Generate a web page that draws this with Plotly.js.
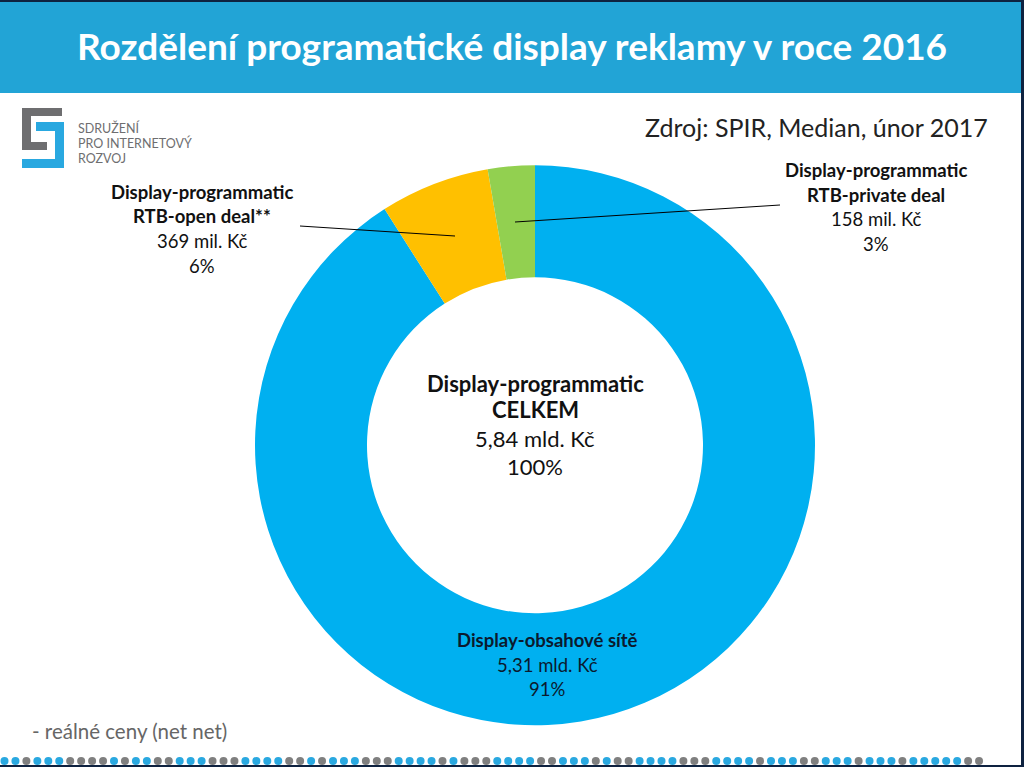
<!DOCTYPE html>
<html><head><meta charset="utf-8">
<script src="https://cdn.plot.ly/plotly-3.0.1.min.js"></script>
<style>html,body{margin:0;padding:0;background:#fff}#chart{width:1024px;height:767px}</style>
</head><body><div id="chart"></div>
<script>
// ---- data ----
const categories = ["Display-obsahové sítě", "Display-programmatic RTB-open deal**", "Display-programmatic RTB-private deal"];
const labelLine1 = ["Display-obsahové sítě", "Display-programmatic", "Display-programmatic"];
const labelLine2 = ["", "RTB-open deal**", "RTB-private deal"];
const valuesMil = [5310, 369, 158];
const valueTexts = ["5,31 mld. Kč", "369 mil. Kč", "158 mil. Kč"];
const percentTexts = ["91%", "6%", "3%"];
const sliceColors = ["#00B0F0", "#FFC000", "#92D050"];
const totalLines = ["Display-programmatic", "CELKEM", "5,84 mld. Kč", "100%"];
const titleText = "Rozdělení programatické display reklamy v roce 2016";
const sourceText = "Zdroj: SPIR, Median, únor 2017";
const noteText = "- reálné ceny (net net)";
const logoLines = ["SDRUŽENÍ", "PRO INTERNETOVÝ", "ROZVOJ"];

// ---- helpers (pixel -> paper) ----
const W = 1024, H = 767;
const px = x => x / W, py = y => 1 - y / H;
const FONT = "Lato, 'Open Sans', sans-serif";

const shapes = [];
const annotations = [];
function rect(x0, y0, x1, y1, color) {
  shapes.push({type: "rect", xref: "paper", yref: "paper", x0: px(x0), x1: px(x1), y0: py(y1), y1: py(y0),
    fillcolor: color, line: {width: 0}, layer: "below"});
}
function line(x0, y0, x1, y1, color, w) {
  shapes.push({type: "line", xref: "paper", yref: "paper", x0: px(x0), x1: px(x1), y0: py(y0), y1: py(y1),
    line: {color: color, width: w}, layer: "above"});
}
function text(t, x, y, size, color, bold, anchor) {
  annotations.push({xref: "paper", yref: "paper", x: px(x), y: py(y), text: bold ? "<b>" + t + "</b>" : t,
    showarrow: false, xanchor: anchor || "center", yanchor: "middle",
    font: {family: FONT, size: size, color: color}});
}

// title bar
rect(0, 0, 1021, 93, "#22A4D6");
rect(0, 0, 1024, 2, "#0E2240");
rect(1021, 0, 1024, 767, "#0E2240");
rect(0, 765, 1024, 767, "#0E2240");
text(titleText, 512, 46, 37, "#ffffff", true);

// logo
rect(22, 108, 62, 116, "#6E6E70");
rect(22, 108, 31, 150, "#6E6E70");
rect(22, 142, 47, 150, "#6E6E70");
rect(36, 122, 64, 131, "#29A8E0");
rect(55, 122, 64, 168, "#29A8E0");
rect(22, 159, 64, 168, "#29A8E0");
logoLines.forEach((t, i) => text(t, 76, 128 + i * 15, 12.5, "#6E6E70", false, "left"));

// source + note
text(sourceText, 990, 127, 25, "#222222", false, "right");
text(noteText, 30, 731, 20.5, "#666666", false, "left");

// dotted strip
const dotPattern = "bbgbbbggggbgbbggbbbgggbbbbggbgbbbgggbbbbgbgggbbbbggbbbgbggbbbbgggbbbbgbbbggbbbgbbbgbbbbbgg";
for (let i = 0; i < dotPattern.length; i++) {
  const cx = 4.5 + i * 10.95, cy = 761, r = 4;
  shapes.push({type: "circle", xref: "paper", yref: "paper", x0: px(cx - r), x1: px(cx + r), y0: py(cy + r), y1: py(cy - r),
    fillcolor: dotPattern[i] === "b" ? "#29A8E0" : "#7F7F7F", line: {width: 0}});
}

// leader lines
line(300, 226, 455, 236, "#000000", 1);
line(515, 222, 780, 205, "#000000", 1);

// slice labels
const labelPos = [[547, 640], [202, 192], [876, 170]];
const labelColors = ["#0B1A2E", "#111111", "#111111"];
categories.forEach((c, i) => {
  const [x, y] = labelPos[i];
  let yy = y;
  text(labelLine1[i], x, yy, 18.5, labelColors[i], true); yy += 24.5;
  if (labelLine2[i]) { text(labelLine2[i], x, yy, 18.5, labelColors[i], true); yy += 24.5; }
  text(valueTexts[i], x, yy, 18.5, labelColors[i], false); yy += 24.5;
  text(percentTexts[i], x, yy, 18.5, labelColors[i], false);
});

// center label
const centerY = [383, 410, 438, 466];
totalLines.forEach((t, i) => text(t, 535, centerY[i], 22, "#111111", i < 2));

const trace = {
  type: "pie",
  labels: categories,
  values: valuesMil,
  marker: {colors: sliceColors, line: {width: 0}},
  hole: 0.6,
  sort: false,
  direction: "clockwise",
  rotation: 0,
  textinfo: "none",
  hoverinfo: "none",
  showlegend: false,
  domain: {x: [px(255), px(815)], y: [py(725.5), py(165)]}
};

Plotly.newPlot("chart", [trace], {
  width: W, height: H,
  margin: {l: 0, r: 0, t: 0, b: 0},
  paper_bgcolor: "#ffffff",
  showlegend: false,
  shapes: shapes,
  annotations: annotations
}, {staticPlot: true});
</script></body></html>
